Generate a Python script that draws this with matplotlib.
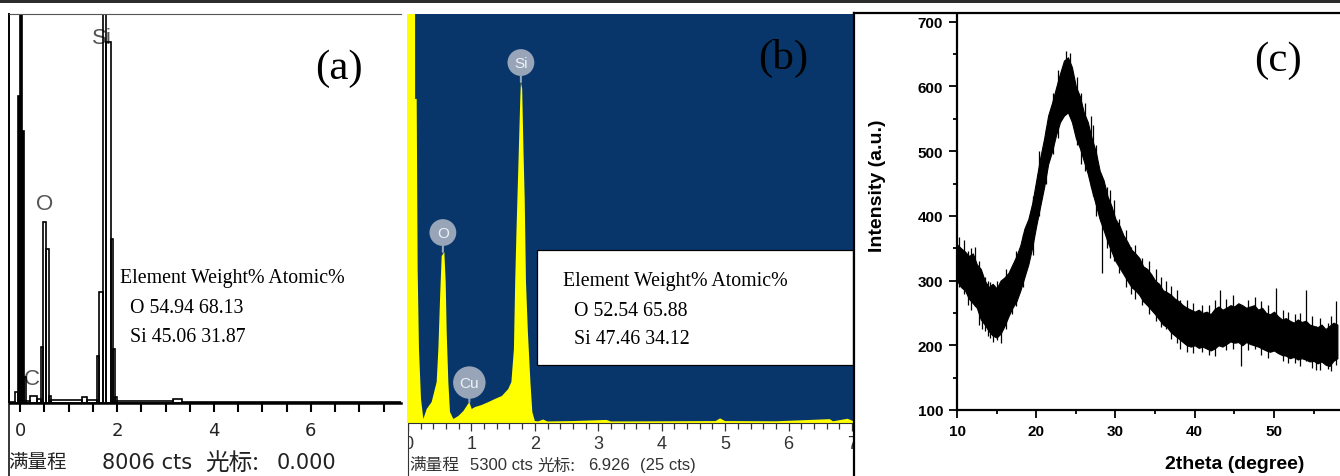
import numpy as np
import matplotlib
matplotlib.use("Agg")
import matplotlib.pyplot as plt
from matplotlib.patches import Rectangle
from matplotlib.lines import Line2D
from matplotlib.ticker import MultipleLocator

plt.rcParams['font.family'] = ['DejaVu Sans', 'Noto Sans CJK SC']

W, H = 1340, 477

# ---- (a) EDS spectrum: channel edges (keV) and counts per channel
a_edges = [-0.23, -0.103, -0.041, 0.000, 0.031, 0.082, 0.124, 0.206, 0.351,
           0.433, 0.474, 0.536, 0.598, 0.639, 1.278, 1.381, 1.588, 1.629,
           1.711, 1.773, 1.876, 1.907, 1.948, 2.000, 3.155, 3.340, 7.86]
a_counts = [20, 226, 6318, 12000, 5598, 535, 40, 144, 82,
            1153, 3725, 3170, 144, 62, 123, 62, 967, 2285,
            12000, 7430, 3375, 1111, 123, 41, 82, 30]
a_full_scale = 8006
a_cursor = 0.000
a_lines = ["C", "O", "Si"]
a_line_pos = [(0.25, 494), (0.505, 4096), (1.69, 7532)]

# ---- (b) EDS spectrum: energy (keV) and counts
b_energy = [-0.02, 0.110, 0.112, 0.137, 0.152, 0.173, 0.205, 0.242, 0.295, 0.373,
            0.452, 0.479, 0.505, 0.531, 0.573, 0.594, 0.610, 0.636, 0.662, 0.715,
            0.794, 0.873, 0.925, 0.967, 1.004, 1.057, 1.16, 1.27, 1.37, 1.48,
            1.58, 1.63, 1.67, 1.69, 1.71, 1.74, 1.77, 1.78, 1.80, 1.82,
            1.84, 1.86, 1.89, 1.93, 1.96, 2.00, 2.05, 2.13, 2.20, 2.60,
            3.13, 3.20, 4.00, 4.85, 4.92, 5.00, 5.80, 6.65, 6.70, 6.93, 7.02]
b_counts = [9000, 9000, 4199, 4199, 2000, 959, 311, 52, 181, 272,
            531, 959, 1607, 2164, 2216, 1827, 1179, 531, 143, 52,
            91, 155, 220, 272, 181, 207, 233, 272, 311, 350,
            440, 531, 959, 1827, 2475, 3331, 4199, 4419, 4328, 3551,
            2903, 1827, 1179, 531, 143, 26, 20, 45, 20, 25,
            40, 20, 22, 25, 60, 25, 22, 50, 22, 55, 25]
b_full_scale = 5300
b_cursor = 6.926
b_cursor_cts = 25
b_lines = ["O", "Cu", "Si"]
b_line_energy = [0.55, 0.967, 1.78]

# ---- composition tables
elements = ["O", "Si"]
a_weight = [54.94, 45.06]
a_atomic = [68.13, 31.87]
b_weight = [52.54, 47.46]
b_atomic = [65.88, 34.12]

# ---- (c) XRD: band of the noisy trace (lower / upper edge) every 0.5 deg
c_two_theta = np.arange(10, 58.5, 0.5)
c_upper = [356, 350, 345, 338, 342, 325, 318, 300, 290, 295,
           288, 300, 305, 312, 325, 338, 355, 380, 395, 420,
           455, 490, 520, 555, 575, 598, 620, 640, 645, 630,
           600, 585, 560, 545, 520, 500, 470, 455, 430, 415,
           395, 385, 370, 360, 348, 342, 335, 322, 318, 310,
           300, 295, 285, 282, 278, 272, 268, 262, 258, 255,
           252, 255, 250, 252, 248, 256, 260, 255, 258, 262,
           260, 265, 262, 258, 260, 262, 255, 258, 250, 248,
           252, 245, 240, 242, 238, 235, 240, 236, 238, 232,
           230, 228, 232, 225, 230, 235, 232]
c_lower = [300, 290, 285, 272, 265, 258, 240, 232, 222, 215,
           212, 218, 230, 245, 258, 268, 285, 305, 325, 352,
           385, 415, 445, 480, 500, 525, 545, 555, 560, 545,
           520, 505, 485, 465, 440, 418, 395, 378, 360, 345,
           330, 320, 310, 300, 290, 285, 278, 268, 262, 255,
           248, 240, 232, 228, 220, 215, 210, 205, 200, 198,
           200, 196, 198, 195, 192, 195, 200, 198, 202, 206,
           204, 205, 200, 205, 202, 200, 198, 195, 192, 190,
           192, 188, 185, 184, 180, 182, 178, 180, 178, 175,
           176, 172, 175, 170, 168, 176, 180]
# isolated noise hairs sticking out of the band
c_spike_x = [10.2, 10.9, 11.4, 11.8, 12.3, 12.8, 13.1, 13.5, 13.9, 14.2,
             14.6, 15.1, 15.6, 16.2, 16.9, 17.4, 18.3, 19.6, 20.3, 21.2,
             22.1, 22.8, 23.7, 24.2, 25.1, 25.6, 26.2, 26.9, 27.1, 27.6,
             28.3, 28.9, 29.3, 29.8, 30.4, 31.3, 31.9, 32.4, 33.4, 34.2,
             35.1, 35.8, 36.4, 37.0, 37.8, 38.1, 39.0, 39.8, 40.9, 41.8,
             42.5, 43.2, 44.0, 44.8, 45.9, 46.7, 47.6, 48.3, 49.3, 50.2,
             51.1, 51.8, 52.6, 53.3, 54.0, 54.8, 55.3, 55.8, 56.8, 57.2,
             57.8]
c_spike_lo = [290, 280, 262, 255, 260, 232, 225, 222, 215, 212,
              205, 208, 203, 225, 248, 260, 290, 340, 400, 450,
              495, 520, 560, 555, 510, 480, 470, 445, 430, 400,
              312, 350, 335, 330, 312, 290, 280, 272, 262, 248,
              238, 228, 225, 210, 203, 195, 190, 188, 190, 185,
              183, 200, 192, 195, 168, 192, 195, 185, 180, 195,
              175, 172, 172, 168, 175, 165, 162, 162, 163, 160,
              170]
c_spike_hi = [368, 362, 345, 350, 352, 330, 300, 305, 300, 298,
              290, 300, 295, 318, 320, 345, 372, 430, 500, 535,
              590, 625, 655, 652, 615, 590, 575, 555, 540, 510,
              410, 445, 440, 425, 395, 378, 352, 355, 335, 330,
              318, 305, 300, 292, 285, 270, 270, 265, 262, 262,
              270, 285, 272, 278, 262, 270, 275, 268, 262, 288,
              255, 252, 248, 250, 285, 245, 230, 242, 235, 245,
              268]
c_xticks = [10, 20, 30, 40, 50]
c_yticks = [100, 200, 300, 400, 500, 600, 700]

fig = plt.figure(figsize=(W / 100, H / 100), dpi=100)


def fx(px):
    return px / W


def fy(py):
    return 1 - py / H


def box(x0, y0, x1, y1):
    return [fx(x0), fy(y1), (x1 - x0) / W, (y1 - y0) / H]


def fig_line(xs, ys, lw, color='black', z=4):
    fig.add_artist(Line2D([fx(x) for x in xs], [fy(y) for y in ys],
                          lw=lw, color=color, zorder=z))


def fig_rect(x0, y0, x1, y1, fc, ec='none', lw=0, z=1):
    fig.add_artist(Rectangle((fx(x0), fy(y1)), (x1 - x0) / W, (y1 - y0) / H,
                             fc=fc, ec=ec, lw=lw, zorder=z,
                             transform=fig.transFigure))


serif = 'Liberation Serif'
arial = 'Liberation Sans'

# ================= (a) =================
axa = fig.add_axes(box(9, 15, 401, 404))
lefts = a_edges[:-1]
widths = np.diff(a_edges)
faces = ['black' if (e < 0.1 and c > 1000) else 'none' for e, c in zip(lefts, a_counts)]
axa.bar(lefts, a_counts, width=widths, align='edge', color=faces,
        edgecolor='black', linewidth=1.2)
axa.set_xlim(-0.23, 7.86)
axa.set_ylim(0, a_full_scale)
axa.set_yticks([])
axa.spines['right'].set_visible(False)
axa.spines['top'].set_color('#555')
axa.spines['top'].set_linewidth(0.8)
axa.spines['left'].set_linewidth(1.4)
axa.spines['bottom'].set_linewidth(1.8)
axa.xaxis.set_major_locator(MultipleLocator(2))
axa.xaxis.set_minor_locator(MultipleLocator(0.5))
axa.tick_params(axis='x', which='both', direction='out', length=6.5, width=1.5, pad=6.5)
axa.tick_params(axis='x', which='major', labelsize=13, labelcolor='#222')
for name, (e, c) in zip(a_lines, a_line_pos):
    axa.text(e, c, name, ha='center', va='center', fontsize=16, family=arial,
             color='#555', zorder=0.5)

fig_rect(0, 404, 9, 477, 'white', z=1)
fig_line([9, 9], [404, 477], 1.1)
fig.text(fx(339), fy(69), "(a)", family=serif, fontsize=31, ha='center', va='center')

# bottom status line
fig.text(fx(8), fy(463), "满量程", family=['Noto Sans CJK SC'], fontsize=14,
         va='center', color='#222')
fig.text(fx(102), fy(463), f"{a_full_scale} cts", fontsize=15, va='center', color='#222')
fig.text(fx(205), fy(463), "光标:", family=['Noto Sans CJK SC', 'DejaVu Sans'],
         fontsize=17, va='center', color='#222')
fig.text(fx(277), fy(463), f"{a_cursor:.3f}", fontsize=15, va='center', color='#222')

# ================= (b) =================
axb = fig.add_axes(box(407, 15, 853, 424))
axb.set_facecolor('#08366A')
axb.fill_between(b_energy, b_counts, color='#FFFF00', lw=0)
b_px = (852 - 408) / 7
axb.set_xlim((407 - 408) / b_px, (853 - 408) / b_px)
axb.set_ylim(0, b_full_scale)
axb.set_yticks([])
for s in ['left', 'right', 'top']:
    axb.spines[s].set_visible(False)
axb.spines['bottom'].set_color('#333')
axb.spines['bottom'].set_linewidth(0.8)
axb.xaxis.set_major_locator(MultipleLocator(1))
axb.xaxis.set_minor_locator(MultipleLocator(0.2))
axb.tick_params(axis='x', which='major', length=5.5, width=0.9, color='#333', pad=3,
                labelsize=13, labelcolor='#333', labelfontfamily=arial)
axb.tick_params(axis='x', which='minor', length=4.5, width=0.9, color='#333')

be = np.array(b_energy)
bc = np.array(b_counts)
for name, e in zip(b_lines, b_line_energy):
    top = bc[(be > e - 0.045) & (be < e + 0.045)].max()
    axb.annotate(name, xy=(e, top), xytext=(0, 14), textcoords='offset points',
                 ha='center', va='center', fontsize=11, family=arial, color='#EEF2F7',
                 bbox=dict(boxstyle='circle,pad=0.42', fc='#98A5B8', ec='none'),
                 arrowprops=dict(arrowstyle='-', color='#98A5B8', lw=1.5,
                                 shrinkA=0, shrinkB=0))

fig_rect(401, 424, 407.5, 477, 'white', z=1)
fig_line([408, 408], [425, 477], 0.8, color='#333')
fig.text(fx(783), fy(58), "(b)", family=serif, fontsize=31, ha='center', va='center')

# composition table box
fig_rect(537, 251, 853, 366, 'white', ec='black', lw=0.9, z=2)

b_status = [(409, "满量程", 'cjk'), (470, f"{b_full_scale} cts", 'lat'),
            (537, "光标:", 'cjk'), (588, f"{b_cursor:.3f}", 'lat'),
            (640, f"({b_cursor_cts} cts)", 'lat')]
for x, s, kind in b_status:
    if kind == 'cjk':
        fig.text(fx(x), fy(466), s, family=['Noto Sans CJK SC', arial], fontsize=12,
                 va='center', color='#333', zorder=3)
    else:
        fig.text(fx(x), fy(466), s, family=arial, fontsize=12,
                 va='center', color='#333', zorder=3)


# tables of composition
def table(x_head, x_rows, y_head, dy, weights, atomics):
    fig.text(fx(x_head), fy(y_head), "Element Weight% Atomic%", family=serif,
             fontsize=14.3, va='center', zorder=4)
    for i, el in enumerate(elements):
        fig.text(fx(x_rows), fy(y_head + dy * (i + 1)),
                 f"{el} {weights[i]:.2f} {atomics[i]:.2f}", family=serif,
                 fontsize=14.3, va='center', zorder=4)


table(120, 130, 279, 29.5, a_weight, a_atomic)
table(563, 574, 282, 29, b_weight, b_atomic)

# ================= (c) =================
fig_rect(853, 14, 1340, 477, 'white', z=1)
axc = fig.add_axes(box(957, 15, 1340, 411))
axc.set_zorder(2)
axc.fill_between(c_two_theta, c_lower, c_upper, color='black', edgecolor='black', lw=0.8)
axc.vlines(c_spike_x, c_spike_lo, c_spike_hi, color='black', lw=0.9)
axc.set_xlim(10, 58.33)
axc.set_ylim(100, 712)
axc.spines['top'].set_visible(False)
axc.spines['right'].set_visible(False)
axc.spines['left'].set_linewidth(1.6)
axc.spines['bottom'].set_linewidth(1.6)
axc.set_xticks(c_xticks, labels=[str(v) for v in c_xticks], fontweight='bold',
               family=arial, fontsize=11)
axc.set_yticks(c_yticks, labels=[str(v) for v in c_yticks], fontweight='bold',
               family=arial, fontsize=11)
axc.xaxis.set_minor_locator(MultipleLocator(5))
axc.yaxis.set_minor_locator(MultipleLocator(50))
axc.tick_params(which='major', direction='out', length=5.5, width=1.3, pad=4.5)
axc.tick_params(which='minor', direction='out', length=3, width=1.3)
axc.set_xlabel("2theta (degree)", family=arial, fontweight='bold', fontsize=14)
axc.set_ylabel("Intensity (a.u.)", family=arial, fontweight='bold', fontsize=14)
axc.xaxis.label.set_va('center')
axc.yaxis.label.set_va('center')
axc.xaxis.set_label_coords((1235 - 957) / 383, (411 - 465) / 396)
axc.yaxis.set_label_coords((878 - 957) / 383, (411 - 186) / 396)

fig_line([854, 854], [14, 477], 1.6, z=5)
fig_line([854, 1340], [14, 14], 1.6, z=5)
fig.text(fx(1278), fy(61), "(c)", family=serif, fontsize=31, ha='center', va='center',
         zorder=5)

# top bar
fig_rect(0, 0, 1340, 3.5, '#2d2d2d', z=6)

fig.savefig("out.png", dpi=100)
